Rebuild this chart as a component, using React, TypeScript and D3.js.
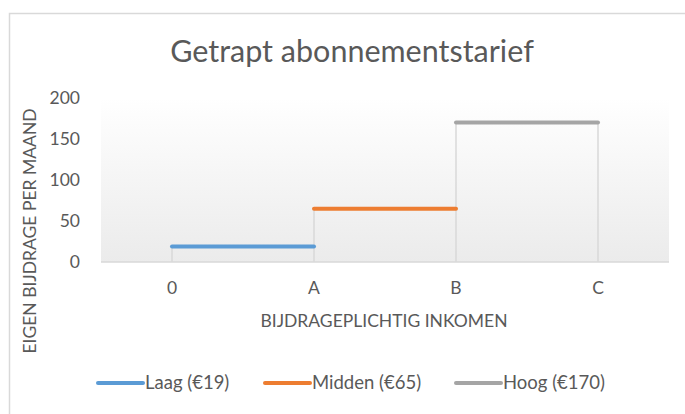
import React, { useEffect, useRef } from 'react';
import * as d3 from 'd3';

const categories = ['0', 'A', 'B', 'C'];
const laag = [19, 19, null, null];
const midden = [null, 65, 65, null];
const hoog = [null, null, 170, 170];
const yTicks = [0, 50, 100, 150, 200];

const series = [
  { name: 'Laag (€19)', values: laag, color: '#5b9bd5' },
  { name: 'Midden (€65)', values: midden, color: '#ed7d31' },
  { name: 'Hoog (€170)', values: hoog, color: '#a5a5a5' },
];

const W = 685;
const H = 414;
const FONT = 'Lato, "Open Sans", sans-serif';
const TXT = '#595959';

export default function App() {
  const ref = useRef<SVGSVGElement>(null);

  useEffect(() => {
    const margin = { top: 98, right: 16, bottom: 152, left: 101 };
    const svg = d3.select(ref.current);
    svg.selectAll('*').remove();

    const x = d3
      .scaleBand()
      .domain(categories)
      .range([margin.left, W - margin.right]);
    const y = d3
      .scaleLinear()
      .domain([0, 200])
      .range([H - margin.bottom, margin.top]);
    const cx = (c: string) => (x(c) as number) + x.bandwidth() / 2;

    const grad = svg
      .append('defs')
      .append('linearGradient')
      .attr('id', 'plotbg')
      .attr('x1', 0)
      .attr('y1', 0)
      .attr('x2', 0)
      .attr('y2', 1);
    grad.append('stop').attr('offset', '0%').attr('stop-color', '#ffffff');
    grad.append('stop').attr('offset', '100%').attr('stop-color', '#ebebeb');

    // chart border (runs off the right and bottom edge)
    svg
      .append('rect')
      .attr('x', 9.5)
      .attr('y', 13.5)
      .attr('width', W + 20)
      .attr('height', H + 20)
      .attr('fill', 'white')
      .attr('stroke', '#d9d9d9')
      .attr('stroke-width', 1.5);

    // plot area
    svg
      .append('rect')
      .attr('x', margin.left)
      .attr('y', y(200))
      .attr('width', W - margin.right - margin.left)
      .attr('height', y(0) - y(200))
      .attr('fill', 'url(#plotbg)');

    svg
      .append('text')
      .attr('x', 352)
      .attr('y', 62)
      .attr('text-anchor', 'middle')
      .attr('font-family', FONT)
      .attr('font-size', 30.5)
      .attr('fill', TXT)
      .text('Getrapt abonnementstarief');

    // drop lines from the highest point at each category
    const tops = categories.map((c, i) => ({
      c,
      v: d3.max(series, (s) => s.values[i] ?? 0) as number,
    }));
    svg
      .append('g')
      .selectAll('line')
      .data(tops)
      .join('line')
      .attr('x1', (d) => cx(d.c))
      .attr('x2', (d) => cx(d.c))
      .attr('y1', y(0))
      .attr('y2', (d) => y(d.v))
      .attr('stroke', '#d9d9d9')
      .attr('stroke-width', 1.5);

    svg
      .append('line')
      .attr('x1', margin.left)
      .attr('x2', W - margin.right)
      .attr('y1', y(0))
      .attr('y2', y(0))
      .attr('stroke', '#d9d9d9')
      .attr('stroke-width', 1.5);

    const line = d3
      .line<number | null>()
      .defined((d) => d != null)
      .x((d, i) => cx(categories[i]))
      .y((d) => y(d as number));

    svg
      .append('g')
      .selectAll('path')
      .data(series)
      .join('path')
      .attr('d', (s) => line(s.values))
      .attr('fill', 'none')
      .attr('stroke', (s) => s.color)
      .attr('stroke-width', 4)
      .attr('stroke-linecap', 'round');

    // y ticks
    svg
      .append('g')
      .selectAll('text')
      .data(yTicks)
      .join('text')
      .attr('x', 80)
      .attr('y', (d) => y(d))
      .attr('dy', '0.35em')
      .attr('text-anchor', 'end')
      .attr('font-family', FONT)
      .attr('font-size', 17.5)
      .attr('fill', TXT)
      .text((d) => d);

    // x ticks
    svg
      .append('g')
      .selectAll('text')
      .data(categories)
      .join('text')
      .attr('x', (d) => cx(d))
      .attr('y', 288)
      .attr('dy', '0.35em')
      .attr('text-anchor', 'middle')
      .attr('font-family', FONT)
      .attr('font-size', 17.5)
      .attr('fill', TXT)
      .text((d) => d);

    svg
      .append('text')
      .attr('x', 384)
      .attr('y', 321)
      .attr('dy', '0.35em')
      .attr('text-anchor', 'middle')
      .attr('font-family', FONT)
      .attr('font-size', 17.5)
      .attr('fill', TXT)
      .text('BIJDRAGEPLICHTIG INKOMEN');

    svg
      .append('text')
      .attr('transform', 'translate(30,231) rotate(-90)')
      .attr('dy', '0.35em')
      .attr('text-anchor', 'middle')
      .attr('font-family', FONT)
      .attr('font-size', 17.5)
      .attr('fill', TXT)
      .text('EIGEN BIJDRAGE PER MAAND');

    // legend
    const legendX = [98, 265, 456];
    const lg = svg
      .append('g')
      .selectAll('g')
      .data(series)
      .join('g')
      .attr('transform', (d, i) => `translate(${legendX[i]},383)`);
    lg.append('line')
      .attr('x1', 0)
      .attr('x2', 45)
      .attr('stroke', (d) => d.color)
      .attr('stroke-width', 4)
      .attr('stroke-linecap', 'round');
    lg.append('text')
      .attr('x', 47)
      .attr('dy', '0.35em')
      .attr('font-family', FONT)
      .attr('font-size', 18.5)
      .attr('fill', TXT)
      .text((d) => d.name);
  }, []);

  return (
    <svg
      ref={ref}
      width={W}
      height={H}
      style={{ position: 'absolute', left: 0, top: 0, display: 'block' }}
    />
  );
}
